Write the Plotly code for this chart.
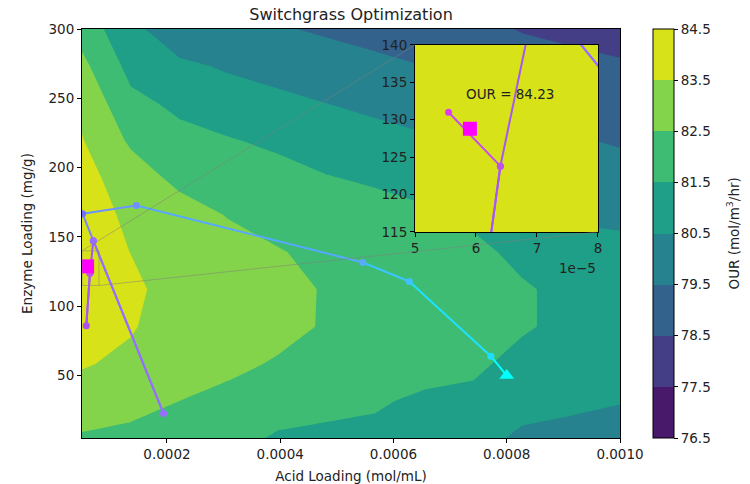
import plotly.graph_objects as go

# surface grid (acid loading x enzyme loading)
acid_grid = [5.0e-05, 1.364e-04, 2.227e-04, 3.091e-04, 3.955e-04, 4.818e-04,
             5.682e-04, 6.545e-04, 7.409e-04, 8.273e-04, 9.136e-04, 1.0e-03]
enzyme_grid = [5.0, 31.8, 58.6, 85.5, 112.3, 139.1, 165.9, 192.7, 219.5, 246.4, 273.2, 300.0]

# OUR values, one row per enzyme level (bottom to top)
our_grid = [
    [82.41, 82.27, 82.10, 81.80, 81.40, 81.35, 81.30, 81.00, 80.70, 80.40, 80.35, 80.05],
    [82.97, 82.80, 82.50, 82.32, 81.90, 81.70, 81.60, 81.35, 81.20, 80.70, 80.60, 80.55],
    [83.60, 83.25, 82.75, 82.65, 82.44, 82.20, 82.00, 81.85, 81.75, 81.10, 80.90, 80.75],
    [84.00, 83.60, 82.90, 82.85, 82.70, 82.44, 82.25, 82.10, 81.95, 81.65, 81.15, 80.85],
    [84.15, 83.75, 83.00, 82.90, 82.70, 82.45, 82.30, 82.10, 81.95, 81.65, 81.15, 80.85],
    [84.20, 83.48, 83.05, 82.85, 82.55, 82.30, 82.15, 81.95, 81.85, 81.15, 80.80, 80.70],
    [84.10, 83.25, 82.90, 82.45, 82.20, 82.00, 81.90, 81.67, 81.20, 80.80, 80.40, 80.35],
    [83.85, 82.97, 82.25, 82.00, 81.87, 81.55, 81.35, 81.10, 80.70, 80.30, 80.00, 79.90],
    [83.55, 82.35, 81.77, 81.57, 81.30, 81.00, 80.95, 80.64, 80.20, 79.80, 79.60, 79.40],
    [83.30, 81.75, 81.30, 80.90, 80.70, 80.50, 80.20, 80.00, 79.70, 79.30, 79.20, 79.00],
    [82.75, 81.20, 80.67, 80.40, 80.20, 80.00, 79.73, 79.50, 79.20, 78.90, 78.80, 78.63],
    [82.10, 80.75, 79.90, 79.75, 79.60, 79.35, 79.15, 78.95, 78.75, 78.45, 78.25, 78.05],
]

our_levels = [76.5, 77.5, 78.5, 79.5, 80.5, 81.5, 82.5, 83.5, 84.5]
band_colors = ['#48186a', '#433e85', '#33638d', '#26828e',
               '#1f9f88', '#3fbc73', '#84d44b', '#d8e219']

# optimisation path (first point = start)
path_acid = [8.0e-4, 7.72e-4, 6.28e-4, 5.46e-4, 1.46e-4, 5.1e-5, 7.0e-5,
             1.94e-4, 7.0e-5, 6.4e-5, 5.76e-5, 6.4e-5, 5.55e-5]
path_enzyme = [50.0, 64.0, 117.9, 131.6, 172.7, 166.7, 147.3,
               22.6, 147.3, 123.8, 86.0, 123.8, 131.0]
point_colors = ['#00ffff', '#20dcff', '#40c0ff', '#5aaaff', '#7090ff', '#7070ff', '#9a6cff',
                '#9a6cff', '#9a6cff', '#c050f0', '#b050f0', '#c050f0', '#dd3cf0']
segment_colors = ['#00ffff', '#1de2ff', '#3ac5ff', '#57a8ff', '#6a95ff', '#7c83ff',
                  '#9470ff', '#9470ff', '#a855f7', '#a855f7', '#a855f7', '#c94af0']

best_acid = 5.9e-5
best_enzyme = 128.8
best_our = 84.23

x_range = [5e-5, 1e-3]
y_range = [5, 300]
inset_x = [5e-5, 8e-5]
inset_y = [115, 140]
inset_dom_x = [0.619, 0.959]
inset_dom_y = [0.5037, 0.961]

FONT = 'DejaVu Sans'


def make_colorscale():
    # plotly colours band k at (k + 0.5) -> position (k + 0.5 - 76) / 9
    cols = [band_colors[0]] + band_colors + [band_colors[-1]]
    n = len(cols) - 1
    scale = []
    for k, c in enumerate(cols):
        lo = max(0.0, (k - 0.5) / n)
        hi = min(1.0, (k + 0.5) / n)
        scale.append([lo, c])
        scale.append([hi, c])
    return scale


def add_path(fig, xa, ya):
    for k in range(len(path_acid) - 1):
        fig.add_trace(go.Scatter(
            x=path_acid[k:k + 2], y=path_enzyme[k:k + 2], mode='lines',
            line=dict(color=segment_colors[k], width=2),
            xaxis=xa, yaxis=ya, hoverinfo='skip', showlegend=False))
    fig.add_trace(go.Scatter(
        x=path_acid[1:], y=path_enzyme[1:], mode='markers',
        marker=dict(color=point_colors[1:], size=7),
        xaxis=xa, yaxis=ya, showlegend=False))
    fig.add_trace(go.Scatter(
        x=path_acid[:1], y=path_enzyme[:1], mode='markers',
        marker=dict(color='#00ffff', size=13, symbol='triangle-up'),
        xaxis=xa, yaxis=ya, showlegend=False))
    fig.add_trace(go.Scatter(
        x=[best_acid], y=[best_enzyme], mode='markers',
        marker=dict(color='#ff00ff', size=14, symbol='square'),
        xaxis=xa, yaxis=ya, showlegend=False))


def create_figure():
    fig = go.Figure()
    cscale = make_colorscale()
    contour_kw = dict(
        x=acid_grid, y=enzyme_grid, z=our_grid,
        autocontour=False,
        contours=dict(start=our_levels[0], end=our_levels[-1], size=1,
                      coloring='fill', showlines=False),
        line=dict(width=0, smoothing=0),
        colorscale=cscale, zmin=our_levels[0], zmax=our_levels[-1],
        hoverinfo='skip')

    fig.add_trace(go.Contour(
        **contour_kw, xaxis='x', yaxis='y', showscale=True,
        colorbar=dict(
            x=(653 - 82) / 538, xanchor='left', xpad=0,
            y=0.5, yanchor='middle', ypad=0, len=1, lenmode='fraction',
            thickness=21, outlinewidth=1, outlinecolor='black',
            tickvals=our_levels, ticktext=[f'{v:.1f}' for v in our_levels],
            ticks='outside', ticklen=4, tickcolor='black',
            tickfont=dict(family=FONT, size=13.5, color='#222'))))
    add_path(fig, 'x', 'y')

    fig.add_trace(go.Contour(**contour_kw, xaxis='x2', yaxis='y2', showscale=False))
    add_path(fig, 'x2', 'y2')

    # zoom rectangle and connector lines
    grey = 'rgba(128,128,128,0.5)'
    fig.add_shape(type='rect', xref='x', yref='y',
                  x0=inset_x[0], x1=inset_x[1], y0=inset_y[0], y1=inset_y[1],
                  line=dict(color=grey, width=1), layer='above')

    def to_data(px, py):
        return (x_range[0] + px * (x_range[1] - x_range[0]),
                y_range[0] + py * (y_range[1] - y_range[0]))

    tl = to_data(inset_dom_x[0], inset_dom_y[1])
    br = to_data(inset_dom_x[1], inset_dom_y[0])
    fig.add_shape(type='line', xref='x', yref='y', x0=inset_x[0], y0=inset_y[1],
                  x1=tl[0], y1=tl[1], line=dict(color=grey, width=1), layer='above')
    fig.add_shape(type='line', xref='x', yref='y', x0=inset_x[1], y0=inset_y[0],
                  x1=br[0], y1=br[1], line=dict(color=grey, width=1), layer='above')

    tick_font = dict(family=FONT, size=13.5, color='#222')
    axis_common = dict(showgrid=False, zeroline=False, showline=True, linecolor='black',
                       linewidth=1, mirror=True, ticks='outside', ticklen=4,
                       tickcolor='black', tickfont=tick_font, automargin=False)

    fig.update_layout(
        width=750, height=484,
        margin=dict(l=82, r=130, t=29, b=46, autoexpand=False),
        paper_bgcolor='white', plot_bgcolor='white',
        font=dict(family=FONT, size=13.5, color='#222'),
        showlegend=False,
        title=dict(text='Switchgrass Optimization', x=(82 + 620) / 2 / 750,
                   xanchor='center', y=1 - 14 / 484, yanchor='middle', yref='container',
                   font=dict(family=FONT, size=16, color='#222')),
        xaxis=dict(range=x_range, domain=[0, 1], tickvals=[0.0002, 0.0004, 0.0006, 0.0008, 0.001],
                   tickformat='.4f',
                   title=dict(text='Acid Loading (mol/mL)', standoff=10,
                              font=dict(family=FONT, size=13.5, color='#222')),
                   **axis_common),
        yaxis=dict(range=y_range, domain=[0, 1], tickvals=[50, 100, 150, 200, 250, 300],
                   title=dict(text='Enzyme Loading (mg/g)', standoff=12,
                              font=dict(family=FONT, size=13.5, color='#222')),
                   **axis_common),
        xaxis2=dict(range=inset_x, domain=inset_dom_x, anchor='y2',
                    tickvals=[5e-5, 6e-5, 7e-5, 8e-5], ticktext=['5', '6', '7', '8'],
                    **axis_common),
        yaxis2=dict(range=inset_y, domain=inset_dom_y, anchor='x2',
                    tickvals=[115, 120, 125, 130, 135, 140],
                    **axis_common),
    )

    fig.add_annotation(x=6.56e-5, y=133.4, xref='x2', yref='y2', text=f'OUR = {best_our:.2f}',
                       showarrow=False, font=dict(family=FONT, size=13.5, color='#222'))
    fig.add_annotation(x=inset_dom_x[1], y=(438 - 268) / 409, xref='paper', yref='paper',
                       xanchor='right', yanchor='middle', text='1e\u22125', showarrow=False,
                       font=dict(family=FONT, size=13.5, color='#222'))
    # colorbar label
    fig.add_annotation(x=(733 - 82) / 538, y=0.5, xref='paper', yref='paper',
                       xanchor='center', yanchor='middle', textangle=-90,
                       text='OUR (mol/m<sup>3</sup>/hr)', showarrow=False,
                       font=dict(family=FONT, size=13.5, color='#222'))
    return fig


if __name__ == '__main__':
    fig = create_figure()
    # drop the browser's default body margin so the figure sits at the page corner
    fig.write_html('out.html', config={'displayModeBar': False},
                   post_script="document.body.style.margin = '0';")
